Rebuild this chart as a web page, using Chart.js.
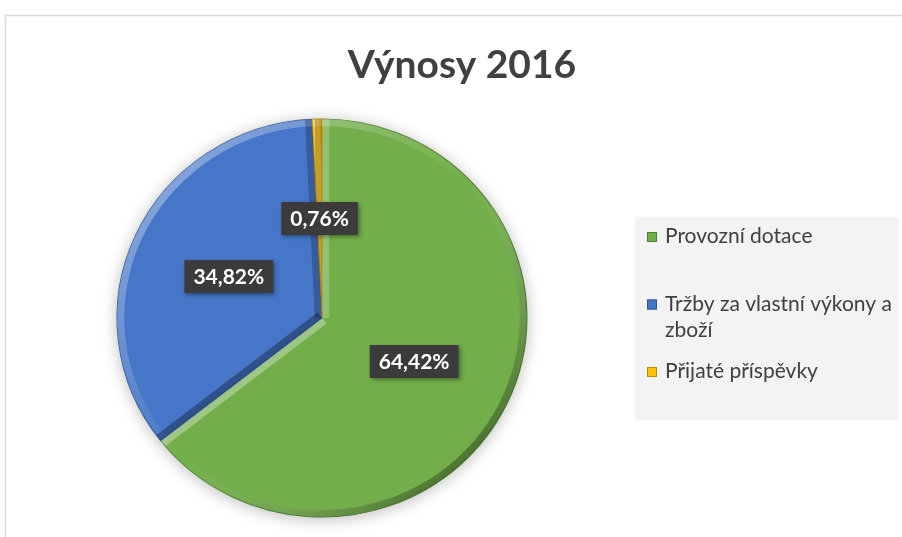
<!DOCTYPE html>
<html lang="cs">
<head>
<meta charset="utf-8">
<title>Výnosy 2016</title>
<script src="https://cdn.jsdelivr.net/npm/chart.js@4.4.1/dist/chart.umd.min.js"></script>
<style>
  html, body { margin: 0; padding: 0; background: #fff; }
  canvas { display: block; }
</style>
</head>
<body>
<canvas id="vynosy" width="902" height="537"></canvas>
<script>
const chartTitle = 'Výnosy 2016';
const categories = ['Provozní dotace', 'Tržby za vlastní výkony a zboží', 'Přijaté příspěvky'];
const shares = [64.42, 34.82, 0.76];

const fills = ['#72ae4a', '#4676c8', '#ffc000'];
const edges = ['#4f7f33', '#2f5597', '#b98c00'];

const fmt = (v) => v.toFixed(2).replace('.', ',') + '%';

// pie is drawn a little wider than tall, like the original
const stretchX = 1.03;

const wrapText = (ctx, text, maxWidth) => {
    const words = text.split(' ');
    const lines = [];
    let line = '';
    words.forEach((w) => {
        const test = line ? line + ' ' + w : w;
        if (line && ctx.measureText(test).width > maxWidth) {
            lines.push(line);
            line = w;
        } else {
            line = test;
        }
    });
    lines.push(line);
    return lines;
};

// frame and title
const framePlugin = {
    id: 'frame',
    beforeDraw(chart) {
        const ctx = chart.ctx;
        ctx.save();
        ctx.fillStyle = '#fff';
        ctx.fillRect(0, 0, chart.width, chart.height);
        ctx.strokeStyle = '#d9d9d9';
        ctx.lineWidth = 1.5;
        ctx.beginPath();
        ctx.moveTo(5.5, chart.height);
        ctx.lineTo(5.5, 15.5);
        ctx.lineTo(chart.width, 15.5);
        ctx.stroke();
        ctx.fillStyle = '#404040';
        ctx.font = 'bold 39px Lato';
        ctx.textAlign = 'center';
        ctx.textBaseline = 'alphabetic';
        ctx.fillText(chartTitle, 462, 78);
        ctx.restore();
    }
};

// light band on edges facing top-left, dark band on edges facing bottom-right
const shadeFor = (nx, ny) => {
    const d = -(nx + ny) * Math.SQRT1_2;
    return d >= 0 ? `rgba(255,255,255,${(0.32 * d).toFixed(3)})` : `rgba(0,0,0,${(-0.32 * d).toFixed(3)})`;
};

const stretchPlugin = {
    id: 'stretch',
    beforeDatasetsDraw(chart) {
        const arc = chart.getDatasetMeta(0).data[0];
        const ctx = chart.ctx;
        ctx.save();
        ctx.translate(arc.x, arc.y);
        ctx.scale(stretchX, 1);
        ctx.translate(-arc.x, -arc.y);
        // soft shadow under the whole pie
        ctx.save();
        ctx.shadowColor = 'rgba(0,0,0,0.28)';
        ctx.shadowBlur = 16;
        ctx.shadowOffsetY = 2;
        ctx.fillStyle = '#fff';
        ctx.beginPath();
        ctx.arc(arc.x, arc.y, arc.outerRadius, 0, Math.PI * 2);
        ctx.fill();
        ctx.restore();
    },
    afterDatasetsDraw(chart) {
        const ctx = chart.ctx;
        const band = 14;
        chart.getDatasetMeta(0).data.forEach((arc) => {
            const {x, y, outerRadius: r, startAngle: a0, endAngle: a1} = arc;
            ctx.save();
            ctx.beginPath();
            ctx.moveTo(x, y);
            ctx.arc(x, y, r, a0, a1);
            ctx.closePath();
            ctx.clip();
            ctx.lineWidth = band;
            // rim
            const g = ctx.createLinearGradient(x - r * 0.7, y - r * 0.7, x + r * 0.7, y + r * 0.7);
            g.addColorStop(0, 'rgba(255,255,255,0.32)');
            g.addColorStop(0.5, 'rgba(255,255,255,0)');
            g.addColorStop(1, 'rgba(0,0,0,0.32)');
            ctx.strokeStyle = g;
            ctx.beginPath();
            ctx.arc(x, y, r, a0, a1);
            ctx.stroke();
            // radial edges
            [[a0, Math.sin(a0), -Math.cos(a0)], [a1, -Math.sin(a1), Math.cos(a1)]].forEach(([a, nx, ny]) => {
                ctx.strokeStyle = shadeFor(nx, ny);
                ctx.beginPath();
                ctx.moveTo(x, y);
                ctx.lineTo(x + Math.cos(a) * r, y + Math.sin(a) * r);
                ctx.stroke();
            });
            ctx.restore();
        });
        ctx.restore();
    }
};

const labelPlugin = {
    id: 'shareLabels',
    afterDatasetsDraw(chart) {
        const ctx = chart.ctx;
        const meta = chart.getDatasetMeta(0);
        ctx.save();
        ctx.font = 'bold 21px Lato';
        ctx.textAlign = 'center';
        ctx.textBaseline = 'middle';
        meta.data.forEach((arc, i) => {
            const mid = (arc.startAngle + arc.endAngle) / 2;
            const d = arc.outerRadius * 0.5;
            const x = arc.x + Math.cos(mid) * d * stretchX;
            const y = arc.y + Math.sin(mid) * d;
            const text = fmt(chart.data.datasets[0].data[i]);
            const w = ctx.measureText(text).width + 18;
            const h = 33;
            ctx.shadowColor = 'rgba(0,0,0,0.35)';
            ctx.shadowBlur = 4;
            ctx.shadowOffsetX = 2;
            ctx.shadowOffsetY = 2;
            ctx.fillStyle = '#3b3b3b';
            ctx.fillRect(x - w / 2, y - h / 2, w, h);
            ctx.shadowColor = 'transparent';
            ctx.fillStyle = '#fff';
            ctx.fillText(text, x, y + 1);
        });
        ctx.restore();
    }
};

const legendPlugin = {
    id: 'sideLegend',
    afterDraw(chart) {
        const ctx = chart.ctx;
        const ds = chart.data.datasets[0];
        ctx.save();
        ctx.fillStyle = '#f3f3f3';
        ctx.fillRect(635, 217, 264, 203);
        ctx.font = '21px Lato';
        ctx.textAlign = 'left';
        ctx.textBaseline = 'alphabetic';
        let y = 243;
        chart.data.labels.forEach((label, i) => {
            const lines = wrapText(ctx, label, 232);
            ctx.fillStyle = ds.backgroundColor[i];
            ctx.fillRect(647, y - 11, 10, 10);
            ctx.strokeStyle = ds.borderColor[i];
            ctx.lineWidth = 1;
            ctx.strokeRect(647.5, y - 10.5, 9, 9);
            ctx.fillStyle = '#404040';
            lines.forEach((ln, k) => ctx.fillText(ln, 665, y + k * 26));
            y += 67.5;
        });
        ctx.restore();
    }
};

new Chart(document.getElementById('vynosy'), {
    type: 'pie',
    data: {
        labels: categories,
        datasets: [{
            data: shares,
            backgroundColor: fills,
            borderColor: edges,
            borderWidth: 1,
            radius: 199
        }]
    },
    options: {
        responsive: false,
        animation: false,
        devicePixelRatio: 1,
        layout: {
            padding: { top: 110, bottom: 11, left: 110, right: 368 }
        },
        plugins: {
            legend: { display: false },
            title: { display: false },
            tooltip: { enabled: false }
        }
    },
    plugins: [framePlugin, stretchPlugin, labelPlugin, legendPlugin]
});
</script>
</body>
</html>
